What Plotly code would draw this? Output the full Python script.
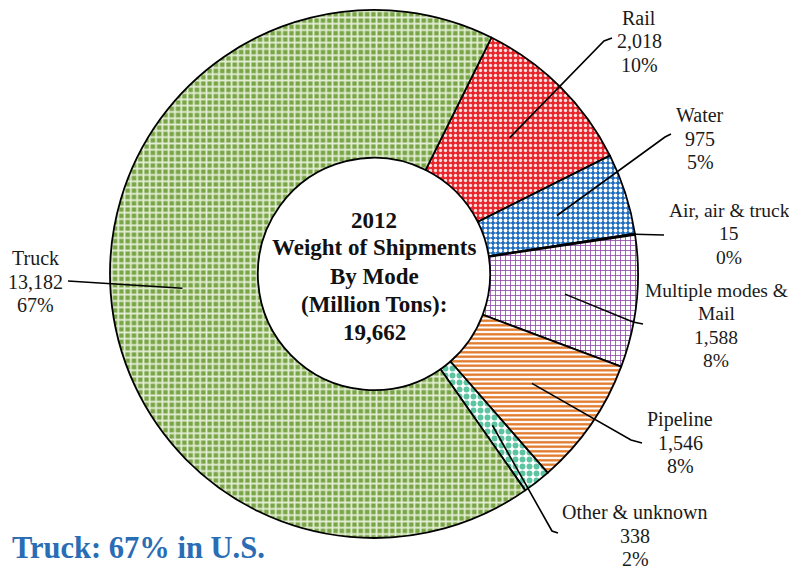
import math
import plotly.graph_objects as go

# ---- data ----
modes = ["Rail", "Water", "Air, air & truck", "Multiple modes & Mail", "Pipeline", "Other & unknown", "Truck"]
tons = [2018, 975, 15, 1588, 1546, 338, 13182]
label_lines = [
    ["Rail", "2,018", "10%"],
    ["Water", "975", "5%"],
    ["Air, air & truck", "15", "0%"],
    ["Multiple modes &", "Mail", "1,588", "8%"],
    ["Pipeline", "1,546", "8%"],
    ["Other & unknown", "338", "2%"],
    ["Truck", "13,182", "67%"],
]
center_lines = ["2012", "Weight of Shipments", "By Mode", "(Million Tons):", "19,662"]
subtitle = "Truck: 67% in U.S."

# ---- styles ----
bg_colors = ["#e8262c", "#1c6cc0", "#111111", "#ffffff", "#ffffff", "#ffffff", "#7aa547"]
fg_colors = ["#ffe0e0", "#ffffff", "#111111", "#8c4aa8", "#e07320", "#5cc4a0", "#e4efd6"]
shapes_p = [".", ".", "", "+", "-", ".", "+"]
sizes_p = [5, 5, 5, 5, 4.5, 7, 6.3]
solid_p = [0.35, 0.45, 0.3, 0.3, 0.5, 0.55, 0.48]

OFF = 8  # page body margin
SW, SH = 797, 569
W, H = SW - OFF, SH - OFF
CX, CY, R = 374, 274, 264
HOLE = 0.44
ROT = 26.4


def px(x):
    return (x - OFF) / W


def py(y):
    return 1 - (y - OFF) / H


fig = go.Figure(go.Pie(
    labels=modes, values=tons, sort=False, direction="clockwise", rotation=ROT,
    hole=HOLE, textinfo="none", hoverinfo="label+value+percent",
    marker=dict(
        colors=bg_colors,
        line=dict(color="#000000", width=1.8),
        pattern=dict(shape=shapes_p, fgcolor=fg_colors, bgcolor=bg_colors,
                     size=sizes_p, solidity=solid_p, fillmode="replace"),
    ),
    domain=dict(x=[px(CX - R), px(CX + R)], y=[py(CY + R), py(CY - R)]),
    showlegend=False,
))

# label first-line positions (px), font sizes and leader elbows/ends (px)
label_top = [(639, 18), (700, 115), (729, 210), (716, 290), (680, 419), (635, 512), (35, 258)]
label_size = [20, 20, 19.5, 19.5, 20, 20, 20]
LINE_H = 23.5
leader_mid = [(604, 41), (665, 137), (664, 235), (633, 322), (631, 440), (552, 531), (68, 281)]
leader_end = [(612, 38), (671, 134), (664, 235), (643, 324), (642, 443), (558, 533), (68, 281)]

total = sum(tons)
ang = ROT
shapes = []
for i, v in enumerate(tons):
    span = 360 * v / total
    mid = math.radians(ang + span / 2)
    rr = R if modes[i].startswith("Air") else 0.5 * (R + R * HOLE) + 2
    ax = CX + rr * math.sin(mid)
    ay = CY - rr * math.cos(mid)
    ang += span
    mx, my = leader_mid[i]
    ex, ey = leader_end[i]
    shapes.append(dict(type="path", xref="paper", yref="paper",
                       path=f"M {px(ax)},{py(ay)} L {px(mx)},{py(my)} L {px(ex)},{py(ey)}",
                       line=dict(color="#000000", width=1.6)))

annotations = []
for (x, y0), fs, lines in zip(label_top, label_size, label_lines):
    for k, t in enumerate(lines):
        annotations.append(dict(x=px(x), y=py(y0 + LINE_H * k), xref="paper", yref="paper", text=t,
                                showarrow=False, xanchor="center", yanchor="middle",
                                font=dict(family="Liberation Serif", size=fs, color="#1a1a1a")))

for k, line in enumerate(center_lines):
    annotations.append(dict(x=px(CX), y=py(220 + 28 * k), xref="paper", yref="paper", text=f"<b>{line}</b>",
                            showarrow=False, xanchor="center", yanchor="middle",
                            font=dict(family="Liberation Serif", size=23, color="#111111")))

annotations.append(dict(x=px(10), y=py(548), xref="paper", yref="paper", text=f"<b>{subtitle}</b>",
                        showarrow=False, xanchor="left", yanchor="middle",
                        font=dict(family="Liberation Serif", size=30.5, color="#2a6db5")))

fig.update_layout(width=W, height=H, margin=dict(l=0, r=0, t=0, b=0),
                  paper_bgcolor="#ffffff", plot_bgcolor="#ffffff",
                  shapes=shapes, annotations=annotations)

fig.write_html("out.html")
